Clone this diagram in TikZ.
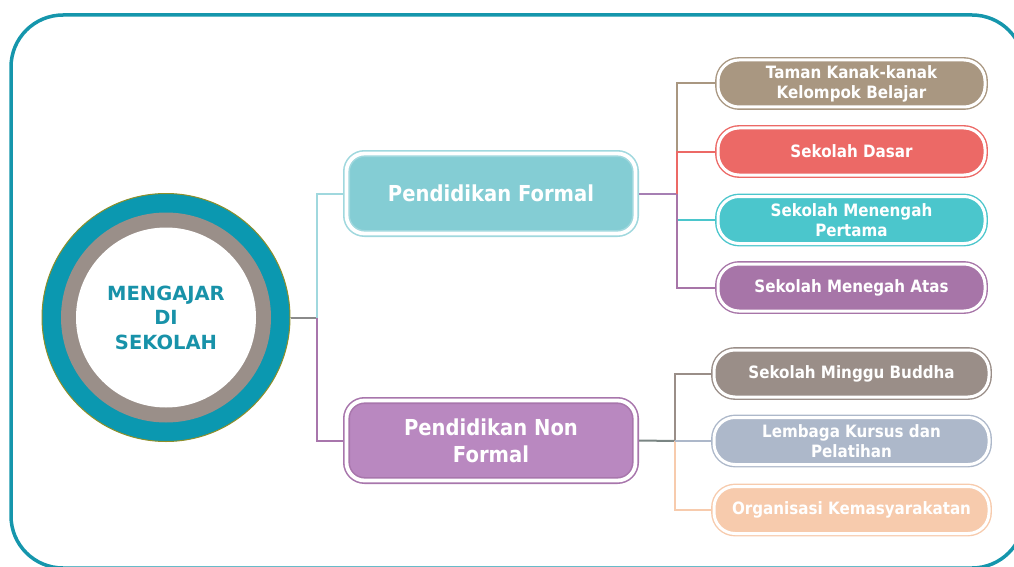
\documentclass[tikz,border=0pt]{standalone}
\usepackage{fontspec}
\newfontfamily\boxfont{DejaVu Sans}[FakeStretch=0.89]
\newfontfamily\circfont{DejaVu Sans}
\definecolor{frameTeal}{HTML}{1596AC}
\definecolor{circTeal}{HTML}{0B98B0}
\definecolor{circOlive}{HTML}{8F8F2A}
\definecolor{ringGray}{HTML}{9A8F89}
\definecolor{circText}{HTML}{1892A9}
\definecolor{circLine}{HTML}{8A8A8A}
\definecolor{pfFill}{HTML}{84CDD4}
\definecolor{pfLine}{HTML}{A0D8DE}
\definecolor{pnFill}{HTML}{B988C0}
\definecolor{pnLine}{HTML}{A876AC}
\definecolor{mauve}{HTML}{A67FB3}
\definecolor{nfLine}{HTML}{7A8583}
\definecolor{tamanC}{HTML}{A99781}
\definecolor{dasarC}{HTML}{EC6966}
\definecolor{menengahC}{HTML}{4BC6CC}
\definecolor{atasC}{HTML}{A775A8}
\definecolor{mingguC}{HTML}{9A8E88}
\definecolor{lembagaC}{HTML}{ADB8CA}
\definecolor{orgC}{HTML}{F7CBAD}
\begin{document}
\begin{tikzpicture}[x=1pt,y=-1pt,
  parentbox/.style={rounded corners=18, minimum width=289, minimum height=80,
    align=center, text=white, font=\boxfont\bfseries\fontsize{22}{27}\selectfont,
    line width=1.6, double=white, double distance=3.8, outer sep=3.5},
  childbox/.style={rounded corners=21, minimum height=47, align=center,
    text=white, font=\boxfont\bfseries\fontsize{17}{20}\selectfont,
    line width=1.4, double=white, double distance=3, outer sep=3},
  conn/.style={line width=2}]
\useasboundingbox (0,0) rectangle (1014,567);
\clip (0,0) rectangle (1014,567);
% frame
\draw[frameTeal, line width=3.5, rounded corners=52] (11,15) rectangle (1024,568);
% central circle
\node[circle, fill=circTeal, draw=circOlive, line width=1, minimum size=248, inner sep=0] (c) at (166,317.5) {};
\fill[ringGray] (c.center) circle (105);
\fill[white] (c.center) circle (90);
\node[font=\circfont\bfseries\fontsize{19.5}{24.5}\selectfont, text=circText, align=center] (ct) at (c.center) {MENGAJAR\\DI\\SEKOLAH};
% parent boxes
\node[parentbox, fill=pfFill, draw=pfLine] (pf) at (491,193.5) {Pendidikan Formal};
\node[parentbox, fill=pnFill, draw=pnLine] (pn) at (491,440.5) {Pendidikan Non\\Formal};
% children formal
\node[childbox, minimum width=267, fill=tamanC, draw=tamanC] (taman) at (851.5,83.5) {Taman Kanak-kanak\\Kelompok Belajar};
\node[childbox, minimum width=267, fill=dasarC, draw=dasarC] (dasar) at (851.5,151.5) {Sekolah Dasar};
\node[childbox, minimum width=267, fill=menengahC, draw=menengahC] (smp) at (851.5,220) {Sekolah Menengah\\Pertama};
\node[childbox, minimum width=267, fill=atasC, draw=atasC] (atas) at (851.5,287.5) {Sekolah Menegah Atas};
% children non formal
\node[childbox, minimum width=275, fill=mingguC, draw=mingguC] (minggu) at (851.5,373.5) {Sekolah Minggu Buddha};
\node[childbox, minimum width=275, fill=lembagaC, draw=lembagaC] (lembaga) at (851.5,441) {Lembaga Kursus dan\\Pelatihan};
\node[childbox, minimum width=275, fill=orgC, draw=orgC] (org) at (851.5,510) {Organisasi Kemasyarakatan};
% junctions
\coordinate (j0) at (317,317.5);
\coordinate (j1) at (677,193.5);
\coordinate (j2) at (675,441);
% connectors
\draw[conn, circLine] (c.east) -- (j0);
\draw[conn, pfLine] (j0) |- (pf.west);
\draw[conn, pnLine] (j0) |- (pn.west);
\draw[conn, mauve] (pf.east) -- (j1);
\draw[conn, tamanC] (j1) |- (taman.west);
\draw[conn, dasarC] (j1) |- (dasar.west);
\draw[conn, menengahC] (j1) |- (smp.west);
\draw[conn, atasC] (j1) |- (atas.west);
\draw[conn, nfLine] (pn.east) -- (j2);
\draw[conn, mingguC] (j2) |- (minggu.west);
\draw[conn, orgC] (j2) |- (org.west);
\draw[conn, lembagaC] (j2) -- (lembaga.west);
\end{tikzpicture}
\end{document}
